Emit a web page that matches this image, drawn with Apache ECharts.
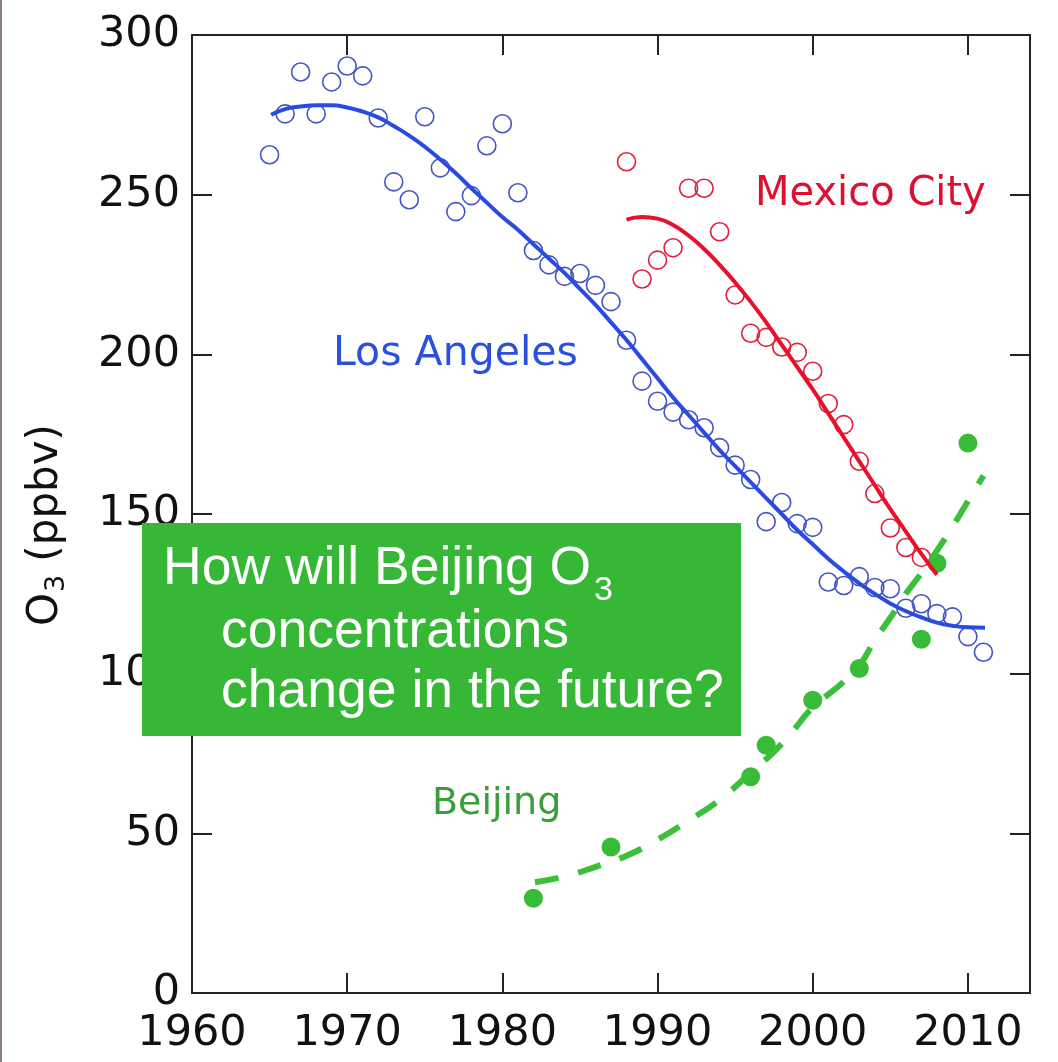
<!DOCTYPE html>
<html><head><meta charset="utf-8">
<script src="https://cdn.jsdelivr.net/npm/echarts@6/dist/echarts.min.js"></script>
<style>html,body{margin:0;padding:0;background:#fff}#c{width:1058px;height:1062px}</style>
</head><body><div id="c"></div>
<script>
// ---- data ----
const xTickLabels = [1960, 1970, 1980, 1990, 2000, 2010];
const yTickLabels = [0, 50, 100, 150, 200, 250, 300];

const laYears = [1965,1966,1967,1968,1969,1970,1971,1972,1973,1974,1975,1976,1977,1978,1979,1980,1981,1982,1983,1984,1985,1986,1987,1988,1989,1990,1991,1992,1993,1994,1995,1996,1997,1998,1999,2000,2001,2002,2003,2004,2005,2006,2007,2008,2009,2010,2011];
const laO3 = [262.5,275.3,288.4,275.3,285.3,290.3,287.2,274,254,248.4,274.4,258.4,244.7,249.7,265.3,272.2,250.6,232.5,228,224.4,225.3,221.6,216.5,204.4,191.6,185.3,181.9,179.5,177,170.8,165.3,160.8,147.6,153.6,147,145.8,128.7,127.6,130.4,127,126.6,120.5,121.9,118.8,117.8,111.6,106.7];

const mexYears = [1988,1989,1990,1991,1992,1993,1994,1995,1996,1997,1998,1999,2000,2001,2002,2003,2004,2005,2006,2007];
const mexO3 = [260.3,223.6,229.5,233.4,252,252,238.4,218.6,206.6,205.3,202.3,200.6,194.7,184.6,178,166.5,156.4,145.6,139.5,136.4];

const bjYears = [1982,1987,1996,1997,2000,2003,2007,2008,2010];
const bjO3 = [29.7,45.7,67.7,77.6,91.7,101.6,110.8,134.6,172.2];

const laFitYears = [1965.1,1966,1967,1968,1969,1970,1971,1972,1973,1974,1975,1976,1977,1978,1979,1980,1981,1982,1983,1984,1985,1986,1987,1988,1989,1990,1991,1992,1993,1994,1995,1996,1997,1998,1999,2000,2001,2002,2003,2004,2005,2006,2007,2008,2009,2010,2011.1];
const laFitO3 = [275,276.8,277.6,278,278,277.3,276,274.2,271.5,268.5,265,261,256.7,252,247.5,243,239,234.5,230,225.5,220.5,215.5,210,204.5,198.5,192.5,186.5,181,175.5,170,165,160,155,150,145,140.5,136,132,128.3,125,122,119.6,117.6,116,115,114.5,114.4];

const mexFitYears = [1988,1989,1990,1991,1992,1993,1994,1995,1996,1997,1998,1999,2000,2001,2002,2003,2004,2005,2006,2007,2008];
const mexFitO3 = [242.2,243,242.5,240.5,237.2,233,228,222.5,216.5,210,203,196,189,181.5,174,166.5,159,151.5,144.5,137.5,131];

const bjFitYears = [1982.1,1984,1986,1988,1990,1992,1994,1996,1998,2000,2001,2002,2003,2004,2005,2006,2007,2008,2009,2010,2011];
const bjFitO3 = [34.7,36.5,39.5,43,48,54,60.5,69,78,89.5,93.5,97.5,102.5,110.5,117.5,125,131.5,138.5,146,154,162];

const zip = (a, b) => a.map((v, i) => [v, b[i]]);

const axisColor = '#222';
const tickFont = 'DejaVu Sans';

const chart = echarts.init(document.getElementById('c'), null, {renderer: 'canvas'});
const baseX = {type: 'value', min: 1960, max: 2014, interval: 10, splitLine: {show: false},
  axisLine: {onZero: false, lineStyle: {color: axisColor, width: 2}},
  axisTick: {inside: true, length: 20, lineStyle: {color: axisColor, width: 2}}};
const baseY = {type: 'value', min: 0, max: 300, interval: 50, splitLine: {show: false},
  axisLine: {onZero: false, lineStyle: {color: axisColor, width: 2}},
  axisTick: {inside: true, length: 20, lineStyle: {color: axisColor, width: 2}}};

const txt = (text, x, y, font, fill, z) => ({type: 'text', z: z || 100,
  style: {text: text, x: x, y: y, font: font, fill: fill, textAlign: 'left', textVerticalAlign: 'middle', align: 'left', verticalAlign: 'middle'}});

const option = {
  animation: false,
  backgroundColor: '#fff',
  grid: {left: 192, right: 28, top: 35, bottom: 69},
  xAxis: [
    Object.assign({}, baseX, {position: 'bottom', axisLabel: {fontFamily: tickFont, fontSize: 43, color: '#111', margin: 19,
      formatter: v => xTickLabels.indexOf(v) >= 0 ? String(v) : ''}}),
    Object.assign({}, baseX, {position: 'top', axisLabel: {show: false}})
  ],
  yAxis: [
    Object.assign({}, baseY, {position: 'left', axisLabel: {fontFamily: tickFont, fontSize: 43, color: '#111', margin: 12,
      formatter: v => yTickLabels.indexOf(v) >= 0 ? String(v) : ''}}),
    Object.assign({}, baseY, {position: 'right', axisLabel: {show: false}})
  ],
  series: [
    {type: 'scatter', data: zip(laYears, laO3), symbol: 'circle', symbolSize: 18,
      itemStyle: {color: 'rgba(0,0,0,0)', borderColor: '#4455c4', borderWidth: 1.6, opacity: 1}},
    {type: 'scatter', data: zip(mexYears, mexO3), symbol: 'circle', symbolSize: 18,
      itemStyle: {color: 'rgba(0,0,0,0)', borderColor: '#e0203a', borderWidth: 1.6, opacity: 1}},
    {type: 'line', data: zip(laFitYears, laFitO3), smooth: true, symbol: 'none',
      lineStyle: {color: '#2a4be0', width: 4}},
    {type: 'line', data: zip(mexFitYears, mexFitO3), smooth: true, symbol: 'none',
      lineStyle: {color: '#e8102a', width: 4}},
    {type: 'line', data: zip(bjFitYears, bjFitO3), smooth: true, symbol: 'none',
      lineStyle: {color: '#3cc03c', width: 6, type: [24, 20]}},
    {type: 'scatter', data: zip(bjYears, bjO3), symbol: 'circle', symbolSize: 19,
      itemStyle: {color: '#38bc38', opacity: 1}}
  ],
  graphic: [
    {type: 'rect', left: 0, top: 0, z: 100, shape: {width: 2, height: 1062}, style: {fill: '#8c8078'}},
    txt('Los Angeles', 333, 354, '41px "DejaVu Sans"', '#2a50e0'),
    txt('Mexico City', 755, 195, '40px "DejaVu Sans"', '#dc1030'),
    txt('Beijing', 432, 804, '38px "DejaVu Sans"', '#3a9e3a'),
    {type: 'group', x: 46, y: 626, rotation: Math.PI / 2, z: 100, children: [
      txt('O', 0, 0, '42px "DejaVu Sans"', '#111'),
      txt('3', 34, 11, '27px "DejaVu Sans"', '#111'),
      txt(' (ppbv)', 51, 0, '42px "DejaVu Sans"', '#111')
    ]},
    {type: 'rect', z: 200, shape: {x: 142, y: 523, width: 599, height: 213}, style: {fill: '#36b836'}},
    txt('How will Beijing O', 163, 569, '53.5px "Liberation Sans"', '#fff', 201),
    txt('3', 594, 591, '34px "Liberation Sans"', '#fff', 201),
    txt('concentrations', 221, 632, '53.5px "Liberation Sans"', '#fff', 201),
    txt('change in the future?', 221, 692, '53.5px "Liberation Sans"', '#fff', 201)
  ]
};
chart.setOption(option);
</script></body></html>
